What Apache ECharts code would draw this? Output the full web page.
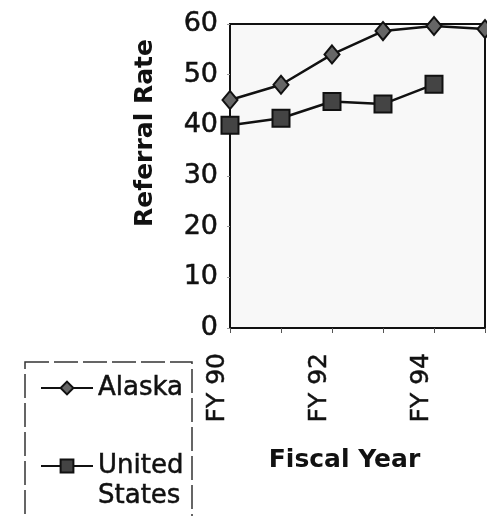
<!DOCTYPE html>
<html>
<head>
<meta charset="utf-8">
<script src="https://cdn.jsdelivr.net/npm/echarts@6/dist/echarts.min.js"></script>
<style>
html,body{margin:0;padding:0;background:#fff;}
#chart{width:487px;height:516px;}
</style>
</head>
<body>
<div id="chart"></div>
<script>
const categories = ['FY 90', 'FY 91', 'FY 92', 'FY 93', 'FY 94', 'FY 95'];
const alaska = [45, 48, 54, 58.6, 59.6, 59];
const unitedStates = [40, 41.4, 44.7, 44.2, 48.1, null];
const seriesNames = ['Alaska', 'United States'];
const yAxisTitle = 'Referral Rate';
const xAxisTitle = 'Fiscal Year';

const font = '"DejaVu Sans", "Liberation Sans", Arial, sans-serif';
const LH = 30;
const ink = '#111';
const thick = { textBorderColor: ink, textBorderWidth: 0.5 };
const legendText = Object.assign({ fontFamily: font, fontSize: 26, color: ink, lineHeight: LH }, thick);

const chart = echarts.init(document.getElementById('chart'));
chart.setOption({
  animation: false,
  backgroundColor: '#fff',
  grid: {
    left: 230, top: 24, right: 2, bottom: 188,
    show: true, backgroundColor: '#f8f8f8', borderColor: ink, borderWidth: 2
  },
  graphic: [{
    type: 'rect', silent: true, z: 0,
    shape: { x: 25, y: 362, width: 167, height: 170 },
    style: { fill: 'none', stroke: '#333', lineWidth: 1.5, lineDash: [24, 5] }
  }],
  legend: [
    {
      orient: 'vertical', left: 40, top: 373, padding: 0,
      itemWidth: 52, itemHeight: 16, itemGap: 0,
      data: [seriesNames[0]],
      textStyle: legendText
    },
    {
      orient: 'vertical', left: 40, top: 421, padding: 0,
      itemWidth: 52, itemHeight: 16, itemGap: 0,
      data: [seriesNames[1]],
      formatter: function (n) { return '\n' + n.replace(' ', '\n'); },
      textStyle: legendText
    }
  ],
  xAxis: {
    type: 'category',
    data: categories,
    boundaryGap: false,
    axisLine: { lineStyle: { color: ink, width: 2 } },
    axisTick: { show: true, inside: false, length: 5, interval: 0, lineStyle: { color: '#555' } },
    axisLabel: Object.assign({ interval: 1, rotate: 90, margin: 25, verticalAlign: 'bottom', fontFamily: font, fontSize: 25, color: ink }, thick),
    name: xAxisTitle,
    nameLocation: 'middle',
    nameGap: 120,
    nameTextStyle: { fontFamily: font, fontSize: 25, fontWeight: 'bold', color: ink, padding: [0, 26, 0, 0] }
  },
  yAxis: {
    type: 'value',
    min: 0, max: 60, interval: 10,
    axisLine: { show: true, lineStyle: { color: ink, width: 2 } },
    axisTick: { show: true, length: 3, lineStyle: { color: '#999' } },
    splitLine: { show: false },
    axisLabel: Object.assign({ margin: 12, fontFamily: font, fontSize: 27, color: ink }, thick),
    name: yAxisTitle,
    nameLocation: 'middle',
    nameGap: 72,
    nameTextStyle: { fontFamily: font, fontSize: 25, fontWeight: 'bold', color: ink, padding: [0, 0, 0, 86] }
  },
  series: [
    {
      name: seriesNames[0], type: 'line', data: alaska,
      symbol: 'diamond', symbolSize: [15, 18],
      lineStyle: { color: ink, width: 2.5 },
      itemStyle: { color: '#666', borderColor: ink, borderWidth: 2 }
    },
    {
      name: seriesNames[1], type: 'line', data: unitedStates,
      symbol: 'rect', symbolSize: 17,
      lineStyle: { color: ink, width: 2.5 },
      itemStyle: { color: '#444', borderColor: ink, borderWidth: 2 }
    }
  ]
});
</script>
</body>
</html>
